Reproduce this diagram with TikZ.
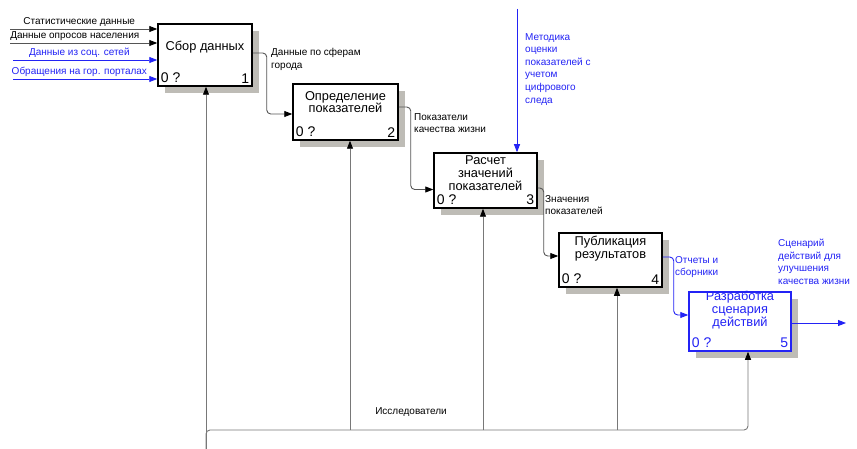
\documentclass[tikz,border=0pt]{standalone}
\usepackage{fontspec}
\setmainfont{Liberation Sans}
\usetikzlibrary{arrows.meta,shadows}
\definecolor{idefblue}{RGB}{35,35,245}
\definecolor{linegray}{RGB}{85,85,85}
\definecolor{mechgray}{RGB}{120,120,120}
\definecolor{shadowgray}{RGB}{190,188,182}

\begin{document}
\begin{tikzpicture}[
            x=1pt, y=-1pt,
            box/.style={draw, line width=1.5pt, fill=white, inner sep=0pt,
                    drop shadow={shadow xshift=7pt, shadow yshift=-7pt, fill=shadowgray, opacity=1}},
            boxtitle/.style={font=\fontsize{12.8}{12.8}\selectfont, align=center, inner sep=0pt},
            boxnum/.style={font=\fontsize{14}{14}\selectfont, inner xsep=3.5pt, inner ysep=3.5pt},
            lbl/.style={font=\fontsize{10}{12.6}\selectfont, align=left, inner sep=0pt},
            conn/.style={draw=linegray, line width=0.9pt, rounded corners=4pt,
                    -{Triangle[length=8pt,width=6pt,black]}},
            bconn/.style={conn, draw=idefblue, -{Triangle[length=8pt,width=6pt,idefblue]}},
            mech/.style={conn, draw=mechgray}
        ]
        \fill[white] (0,0) rectangle (857,449);
        \useasboundingbox (0,0) rectangle (857,449);

        \node[box, minimum width=94pt, minimum height=62pt] (b1) at (205,55) {};
        \node[boxtitle] (b1t) at ([yshift=8pt]b1.center) {Сбор данных};
        \node[boxnum, anchor=south west] (b1l) at (b1.south west) {0 ?};
        \node[boxnum, anchor=south east] (b1n) at (b1.south east) {1};

        \node[box, minimum width=105pt, minimum height=56pt] (b2) at (345.5,112) {};
        \node[boxtitle] (b2t) at ([yshift=10pt]b2.center) {Определение\\показателей};
        \node[boxnum, anchor=south west] (b2l) at (b2.south west) {0 ?};
        \node[boxnum, anchor=south east] (b2n) at (b2.south east) {2};

        \node[box, minimum width=103pt, minimum height=55pt] (b3) at (485.5,180.5) {};
        \node[boxtitle] (b3t) at ([yshift=7.5pt]b3.center) {Расчет\\значений\\показателей};
        \node[boxnum, anchor=south west] (b3l) at (b3.south west) {0 ?};
        \node[boxnum, anchor=south east] (b3n) at (b3.south east) {3};

        \node[box, minimum width=103pt, minimum height=54pt] (b4) at (610.5,260) {};
        \node[boxtitle] (b4t) at ([yshift=11.5pt]b4.center) {Публикация\\результатов};
        \node[boxnum, anchor=south west] (b4l) at (b4.south west) {0 ?};
        \node[boxnum, anchor=south east] (b4n) at (b4.south east) {4};

        \node[box, draw=idefblue, minimum width=102pt, minimum height=59pt] (b5) at (740,321.5) {};
        \node[boxtitle, text=idefblue] (b5t) at ([yshift=11.5pt]b5.center) {Разработка\\сценария\\действий};
        \node[boxnum, text=idefblue, anchor=south west] (b5l) at (b5.south west) {0 ?};
        \node[boxnum, text=idefblue, anchor=south east] (b5n) at (b5.south east) {5};

        \coordinate (in1) at (10,29);
        \coordinate (in2) at (10,43);
        \coordinate (in3) at (13,60);
        \coordinate (in4) at (13,79);
        \draw[conn] (in1) -- (in1 -| b1.west)
            node[lbl, above, pos=0.47, yshift=2pt] (in1t) {Статистические данные};
        \draw[conn] (in2) -- (in2 -| b1.west)
            node[lbl, above, pos=0.44, yshift=2pt] (in2t) {Данные опросов населения};
        \draw[bconn] (in3) -- (in3 -| b1.west)
            node[lbl, above, pos=0.46, yshift=2pt, text=idefblue] (in3t) {Данные из соц. сетей};
        \draw[bconn] (in4) -- (in4 -| b1.west)
            node[lbl, above, pos=0.46, yshift=2pt, text=idefblue] (in4t) {Обращения на гор. порталах};

        \draw[conn] ([yshift=2pt]b1.east) -- ++(14,0) |- ([yshift=-2pt]b2.west);
        \draw[conn] ([yshift=5pt]b2.east) -- ++(12,0) |- ([yshift=-9pt]b3.west);
        \draw[conn] ([yshift=-7.5pt]b3.east) -- ++(6,0) |- ([yshift=4pt]b4.west);
        \draw[bconn] ([yshift=3pt]b4.east) -- ++(11,0) |- ([yshift=6.5pt]b5.west);
        \coordinate (out5) at (846,323);
        \draw[bconn] (out5 -| b5.east) -- (out5);

        \node[lbl, anchor=north west] (o1t) at (271,48) {Данные по сферам\\города};
        \node[lbl, anchor=north west] (o2t) at (414,113) {Показатели\\качества жизни};
        \node[lbl, anchor=north west] (o3t) at (545,195) {Значения\\показателей};
        \node[lbl, anchor=north west, text=idefblue] (o4t) at (675,256) {Отчеты и\\сборники};
        \node[lbl, anchor=north west, text=idefblue] (o5t) at (778,239) {Сценарий\\действий для\\улучшения\\качества жизни};

        \coordinate (ctop) at (517,9);
        \draw[bconn] (ctop) -- (ctop |- b3.north);
        \node[lbl, anchor=north west, text=idefblue] (ct) at (525,33)
            {Методика\\оценки\\показателей с\\учетом\\цифрового\\следа};

        \coordinate (mbot) at (206,449);
        \coordinate (m1) at (206,430);
        \coordinate (m2) at (350,430);
        \coordinate (m3) at (483,430);
        \coordinate (m4) at (617,430);
        \coordinate (m5) at (748,430);
        \draw[mech] (mbot) -- (mbot |- b1.south);
        \draw[mech] (mbot) -- (m1) -- (m5) -- (m5 |- b5.south);
        \draw[mech] (m2) -- (m2 |- b2.south);
        \draw[mech] (m3) -- (m3 |- b3.south);
        \draw[mech] (m4) -- (m4 |- b4.south);
        \node[lbl] (mt) at (411,412) {Исследователи};
    \end{tikzpicture}
\end{document}
